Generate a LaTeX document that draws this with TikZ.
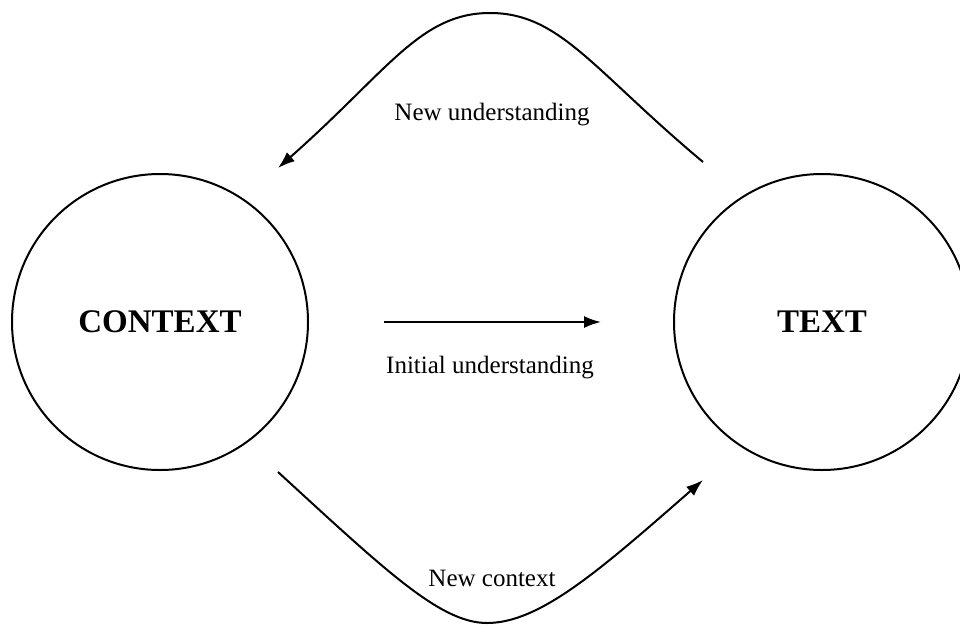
\documentclass[tikz,border=0pt]{standalone}
\usepackage{fontspec}
\setmainfont{Liberation Serif}
\usetikzlibrary{shapes,arrows.meta,positioning}

\begin{document}
\begin{tikzpicture}[x=1pt, y=-1pt, line width=2pt,
  bigcircle/.style={draw, circle, minimum size=296pt, inner sep=0pt, font=\fontsize{33}{36}\selectfont\bfseries},
  lbl/.style={font=\fontsize{25}{28}\selectfont},
  arr/.style={-{Latex[length=17pt,width=12pt]}}]
\useasboundingbox (0,0) rectangle (960,626);

% circles
\node[bigcircle] (context) at (160,322) {CONTEXT};
\node[bigcircle] (text) at (822,322) {TEXT};

% Initial understanding
\draw[arr, shorten <=75pt, shorten >=72pt] (context) -- (text);
\node[lbl] (initial) at (490,368) {Initial understanding};

% New understanding
\coordinate (topstart) at (703,162);
\coordinate (topend) at (278,168);
\draw[arr] (topstart) .. controls (593,70) and (560,13) .. (490,13)
  .. controls (420,13) and (388,71) .. (topend);
\node[lbl] (newund) at (492,115) {New understanding};

% New context
\coordinate (botstart) at (278,472);
\coordinate (botend) at (703,480);
\draw[arr] (botstart) .. controls (385,570) and (440,623) .. (487,623)
  .. controls (540,623) and (600,570) .. (botend);
\node[lbl] (newctx) at (492,578) {New context};
\end{tikzpicture}
\end{document}
